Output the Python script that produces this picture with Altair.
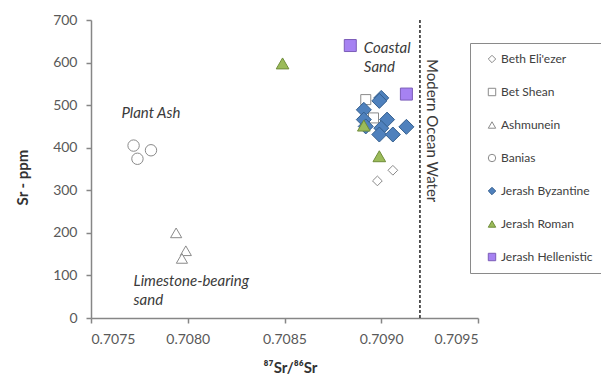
import altair as alt
import pandas as pd

# ---- data ----
series_order = ["Beth Eli'ezer", "Bet Shean", "Ashmunein", "Banias",
                "Jerash Byzantine", "Jerash Roman", "Jerash Hellenistic"]

beth_x = [0.70906, 0.70898]
beth_y = [347, 322]

betshean_x = [0.70892, 0.70896]
betshean_y = [513, 470]

ashmunein_x = [0.70794, 0.70799, 0.70797]
ashmunein_y = [200, 158, 140]

banias_x = [0.70772, 0.70781, 0.70774]
banias_y = [405, 394, 374]

byz_x = [0.70900, 0.70899, 0.70891, 0.70891, 0.70903, 0.70900, 0.70892, 0.70899, 0.70906, 0.70913]
byz_y = [517, 510, 489, 466, 466, 446, 450, 431, 431, 449]

roman_x = [0.70849, 0.70891, 0.70899]
roman_y = [598, 452, 380]

hell_x = [0.70884, 0.70913]
hell_y = [640, 526]

ocean_x = [0.70920]

ann_text = ["Plant Ash", "Coastal", "Sand", "Limestone-bearing", "sand"]
ann_x = [0.70781, 0.70891, 0.70891, 0.70772, 0.70772]
ann_y = [482, 635, 590, 86, 42]
ann_align = ["center", "left", "left", "left", "left"]

ocean_label = "Modern Ocean Water"
ocean_label_y = 440

x_ticks = [0.7075, 0.7080, 0.7085, 0.7090, 0.7095]
y_ticks = [0, 100, 200, 300, 400, 500, 600, 700]

# ---- styles ----
fills = ["#ffffff", "#ffffff", "#ffffff", "#ffffff", "#4f81bd", "#9bbb59", "#a682f2"]
strokes = ["#8a8a8a", "#8a8a8a", "#8a8a8a", "#8a8a8a", "#36608f", "#6f8d3a", "#7b5cb8"]
shapes = ["diamond", "square", "triangle-up", "circle", "diamond", "triangle-up", "square"]
sizes = [95, 100, 125, 130, 225, 160, 144]

rows = []
for k, (name, xs, ys) in enumerate([
    ("Beth Eli'ezer", beth_x, beth_y),
    ("Bet Shean", betshean_x, betshean_y),
    ("Ashmunein", ashmunein_x, ashmunein_y),
    ("Banias", banias_x, banias_y),
    ("Jerash Byzantine", byz_x, byz_y),
    ("Jerash Roman", roman_x, roman_y),
    ("Jerash Hellenistic", hell_x, hell_y),
]):
    for xv, yv in zip(xs, ys):
        rows.append({"series": name, "ratio": xv, "sr": yv, "idx": len(rows), "sz": sizes[k]})
df = pd.DataFrame(rows)

ann_df = pd.DataFrame({"text": ann_text, "x": ann_x, "y": ann_y, "align": ann_align})
ocean_df = pd.DataFrame({"x": ocean_x, "y0": [0], "y1": [700]})
ocean_lab_df = pd.DataFrame({"x": [ocean_x[0] + 0.0000625], "y": [ocean_label_y], "text": [ocean_label]})

xscale = alt.Scale(domain=[0.7075, 0.7095], nice=False, zero=False)
yscale = alt.Scale(domain=[0, 700], nice=False)

legend = alt.Legend(
    title=None, orient="none", legendX=379, legendY=23,
    strokeColor="#8a8a8a", fillColor="#ffffff",
    padding=10, rowPadding=21, symbolSize=55, symbolOffset=6, labelOffset=3,
    labelFont="Lato", labelFontSize=12, labelColor="#404040", symbolStrokeWidth=1,
    cornerRadius=0, labelLimit=200,
)

points = alt.Chart(df).mark_point(filled=True, opacity=1, strokeWidth=1).encode(
    x=alt.X("ratio:Q", scale=xscale,
            axis=alt.Axis(values=x_ticks, format=".4f", title="⁸⁷Sr/⁸⁶Sr",
                          titleX=199, titleY=49, titleBaseline="middle",
                          titleAlign="center")),
    y=alt.Y("sr:Q", scale=yscale,
            axis=alt.Axis(values=y_ticks, title="Sr - ppm", titleAngle=-90,
                          titleX=-69, titleY=157, titleAlign="center",
                          titleBaseline="middle")),
    shape=alt.Shape("series:N", scale=alt.Scale(domain=series_order, range=shapes), legend=legend),
    fill=alt.Fill("series:N", scale=alt.Scale(domain=series_order, range=fills), legend=legend),
    stroke=alt.Stroke("series:N", scale=alt.Scale(domain=series_order, range=strokes), legend=legend),
    size=alt.Size("sz:Q", scale=None),
    order=alt.Order("idx:Q"),
)

rule = alt.Chart(ocean_df).mark_rule(color="#222222", strokeDash=[3, 2], strokeWidth=1.5).encode(
    x=alt.X("x:Q", scale=xscale), y=alt.Y("y0:Q", scale=yscale), y2="y1:Q"
)

def ann_layer(align):
    return alt.Chart(ann_df).transform_filter(alt.datum.align == align).mark_text(
        fontStyle="italic", fontSize=15, font="Lato", color="#3a3a3a",
        baseline="middle", align=align,
    ).encode(x=alt.X("x:Q", scale=xscale), y=alt.Y("y:Q", scale=yscale), text="text:N")

ocean_txt = alt.Chart(ocean_lab_df).mark_text(angle=90, fontSize=15, font="Lato",
                                              color="#3a3a3a", baseline="middle",
                                              align="center").encode(
    x=alt.X("x:Q", scale=xscale), y=alt.Y("y:Q", scale=yscale), text="text:N"
)

chart = alt.layer(rule, points, ann_layer("center"), ann_layer("left"), ocean_txt).properties(
    width=387, height=298,
    autosize=alt.AutoSizeParams(type="none"),
    padding={"left": 83, "top": 12, "right": 123, "bottom": 57},
).configure_view(stroke=None).configure_axis(
    grid=False, domainColor="#868686", domainWidth=1.5, tickColor="#868686",
    tickWidth=1.5, tickSize=5, labelFont="Lato", labelFontSize=14, labelColor="#595959",
    titleFont="Lato", titleFontSize=15, titleFontWeight="bold", titleColor="#333333",
).configure_axisY(labelPadding=9).configure_axisX(labelPadding=9)

chart.save("out.html", embed_options={"renderer": "svg", "actions": False})
